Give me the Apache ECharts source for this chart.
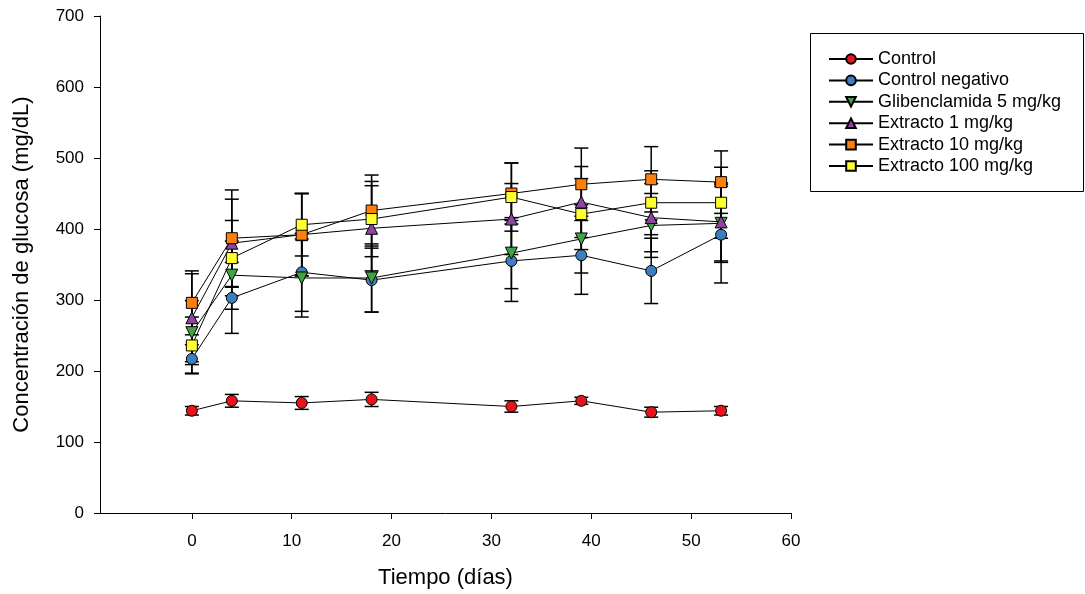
<!DOCTYPE html>
<html><head><meta charset="utf-8">
<script src="https://cdn.jsdelivr.net/npm/echarts@6/dist/echarts.min.js"></script>
<style>html,body{margin:0;padding:0;background:#fff}#c{width:1085px;height:594px}</style>
</head><body><div id="c"></div>
<script>
const days = [0, 4, 11, 18, 32, 39, 46, 53];
const xTicks = [0, 10, 20, 30, 40, 50, 60];
const yTicks = [0, 100, 200, 300, 400, 500, 600, 700];

const names = ['Control', 'Control negativo', 'Glibenclamida 5 mg/kg', 'Extracto 1 mg/kg', 'Extracto 10 mg/kg', 'Extracto 100 mg/kg'];

const control      = [144, 158, 155, 160, 150, 158, 142, 144];
const controlNeg   = [217, 303, 339, 328, 355, 363, 341, 392];
const glib5        = [254, 335, 331, 331, 366, 386, 405, 408];
const ext1         = [275, 380, 392, 401, 414, 438, 416, 410];
const ext10        = [296, 387, 392, 426, 450, 463, 470, 466];
const ext100       = [236, 359, 406, 414, 445, 421, 437, 437];

const errControl   = [6, 9, 9, 10, 8, 5, 7, 6];
const errNeg       = [20, 50, 55, 45, 57, 55, 46, 68];
const errGlib5     = [45, 48, 55, 48, 50, 48, 45, 55];
const errExt1      = [62, 62, 58, 60, 50, 50, 48, 55];
const errExt10     = [45, 68, 58, 50, 43, 51, 46, 44];
const errExt100    = [40, 53, 44, 53, 48, 50, 45, 50];

const values = [control, controlNeg, glib5, ext1, ext10, ext100];
const errors = [errControl, errNeg, errGlib5, errExt1, errExt10, errExt100];
const colors = ['#e8141c', '#3b7fc0', '#3fa53f', '#8d45a0', '#ff7f0e', '#ffff30'];
const symbols = ['circle', 'circle', 'triangle', 'triangle', 'rect', 'rect'];
const rotates = [0, 0, 180, 0, 0, 0];
const sizes = [11, 11, 12, 12, 11, 11];

const FONT = 'Liberation Sans, Arial, sans-serif';

function errRender(params, api) {
  const x = api.value(0), y = api.value(1), e = api.value(2);
  const t = api.coord([x, y + e]);
  const b = api.coord([x, y - e]);
  const w = 7;
  const st = { stroke: '#000', lineWidth: 1.5 };
  return { type: 'group', children: [
    { type: 'line', shape: { x1: t[0], y1: t[1], x2: b[0], y2: b[1] }, style: st },
    { type: 'line', shape: { x1: t[0] - w, y1: t[1], x2: t[0] + w, y2: t[1] }, style: st },
    { type: 'line', shape: { x1: b[0] - w, y1: b[1], x2: b[0] + w, y2: b[1] }, style: st }
  ]};
}

const series = [];
names.forEach((n, i) => {
  series.push({
    name: 'err' + i, type: 'custom', renderItem: errRender, z: 2, silent: true,
    data: days.map((d, k) => [d, values[i][k], errors[i][k]])
  });
});
names.forEach((n, i) => {
  series.push({
    name: n, type: 'line', z: 3,
    data: days.map((d, k) => [d, values[i][k]]),
    symbol: symbols[i], symbolSize: sizes[i], symbolRotate: rotates[i], showAllSymbol: true,
    lineStyle: { color: '#000', width: 1 },
    itemStyle: { color: colors[i], borderColor: '#000', borderWidth: 1 },
    emphasis: { disabled: true }, animation: false
  });
});

const chart = echarts.init(document.getElementById('c'), null, { renderer: 'canvas' });
chart.setOption({
  animation: false,
  backgroundColor: '#fff',
  textStyle: { fontFamily: FONT, color: '#000' },
  grid: { left: 100, right: 294, top: 16, bottom: 81 },
  xAxis: {
    type: 'value', min: -9.2, max: 60,
    name: 'Tiempo (días)', nameLocation: 'middle', nameGap: 54,
    nameTextStyle: { fontSize: 22, color: '#000', fontFamily: FONT },
    axisLine: { show: true, onZero: false, lineStyle: { color: '#000', width: 1 } },
    axisTick: { show: true, length: 6, inside: false, customValues: xTicks, lineStyle: { color: '#000' } },
    axisLabel: { customValues: xTicks, margin: 20, fontSize: 17, color: '#000', fontFamily: FONT },
    splitLine: { show: false }
  },
  yAxis: {
    type: 'value', min: 0, max: 700, interval: 100,
    name: 'Concentración de glucosa (mg/dL)', nameLocation: 'middle', nameGap: 67,
    nameTextStyle: { fontSize: 22, color: '#000', fontFamily: FONT },
    axisLine: { show: true, onZero: false, lineStyle: { color: '#000', width: 1 } },
    axisTick: { show: true, length: 6, inside: false, lineStyle: { color: '#000' } },
    axisLabel: { margin: 16, fontSize: 17, color: '#000', fontFamily: FONT },
    splitLine: { show: false }
  },
  legend: {
    data: names, orient: 'vertical', left: 823, top: 45,
    itemWidth: 44, itemHeight: 12, itemGap: 3.4, itemTextGap: 13,
    textStyle: { fontSize: 18, color: '#000', fontFamily: FONT },
    selectedMode: false
  },
  graphic: [{ type: 'rect', shape: { x: 810.5, y: 33.5, width: 273, height: 158 }, style: { fill: 'none', stroke: '#000', lineWidth: 1 } }],
  series: series
});
</script></body></html>
